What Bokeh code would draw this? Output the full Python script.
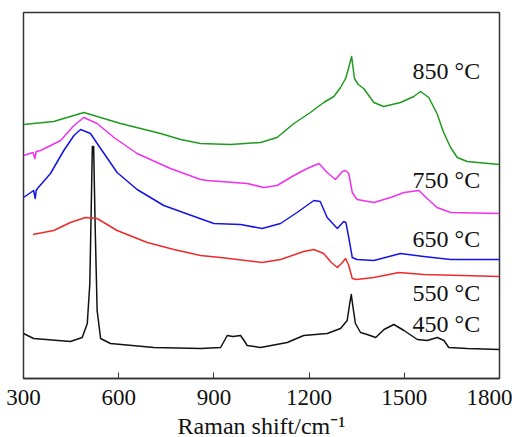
from bokeh.plotting import figure
from bokeh.models import Range1d, FixedTicker
from bokeh.core.properties import value
from bokeh.embed import file_html
from bokeh.resources import INLINE

# Raman shift (cm^-1) and offset intensities (arbitrary units)
x450 = [300, 332, 448, 485, 501, 509, 514, 517, 521, 526, 532, 543, 574, 711, 858, 921, 930, 942, 960, 984,
        995, 1005, 1047, 1131, 1183, 1257, 1299, 1320, 1328, 1333, 1338, 1346, 1362, 1383, 1410, 1436, 1467,
        1499, 1541, 1572, 1604, 1625, 1640, 1698, 1800]
y450 = [45, 40, 37, 41, 55, 95, 180, 232, 232, 150, 68, 40, 35, 31, 30, 31, 36, 43, 42, 43,
        38, 33, 31, 36, 43, 45, 50, 58, 75, 84, 72, 55, 46, 44, 41, 49, 54,
        48, 39, 38, 41, 38, 31, 30, 29]

x550 = [330, 395, 448, 495, 532, 595, 690, 774, 858, 921, 1052, 1110, 1183, 1215, 1246, 1270, 1289, 1305,
        1315, 1325, 1336, 1350, 1404, 1483, 1561, 1800]
y550 = [144, 148, 156, 161, 160, 148, 136, 129, 123, 121, 116, 119, 127, 129, 125, 116, 111, 116,
        120, 113, 100, 99, 101, 106, 104, 102]

x650 = [300, 332, 337, 340, 344, 385, 427, 459, 480, 511, 543, 595, 658, 742, 847, 900, 984, 1052, 1110,
        1162, 1215, 1235, 1257, 1289, 1309, 1316, 1325, 1336, 1351, 1404, 1488, 1561, 1646, 1800]
y650 = [181, 188, 180, 188, 190, 205, 228, 243, 249, 245, 230, 206, 189, 173, 161, 155, 154, 150, 155,
        166, 178, 177, 161, 150, 157, 156, 141, 121, 119, 118, 125, 122, 119, 119]

x750 = [300, 330, 336, 340, 354, 417, 459, 490, 532, 585, 658, 763, 858, 879, 1005, 1057, 1099, 1152, 1194,
        1231, 1257, 1283, 1305, 1315, 1325, 1336, 1351, 1404, 1457, 1499, 1546, 1572, 1603, 1646, 1800]
y750 = [223, 226, 220, 227, 228, 238, 253, 261, 255, 241, 225, 210, 199, 198, 195, 191, 193, 203, 210,
        215, 206, 199, 207, 208, 205, 186, 179, 176, 181, 186, 188, 180, 171, 166, 165]

x850 = [300, 395, 490, 606, 732, 795, 858, 952, 1047, 1099, 1152, 1204, 1246, 1278, 1299, 1315, 1325, 1334,
        1343, 1355, 1372, 1404, 1435, 1488, 1530, 1551, 1577, 1603, 1624, 1646, 1667, 1698, 1800]
y850 = [254, 257, 266, 255, 245, 239, 235, 234, 236, 241, 255, 266, 276, 282, 291, 300, 311, 322,
        300, 294, 290, 276, 272, 276, 282, 287, 281, 265, 246, 231, 221, 217, 214]

labels = ["850 °C", "750 °C", "650 °C", "550 °C", "450 °C"]
label_y = [308, 199, 140, 86, 55]
ticks = [300, 600, 900, 1200, 1500, 1800]
x_title = "Raman shift/cm⁻¹"

FONT = "Liberation Serif"

p = figure(frame_width=476, frame_height=366, output_backend="svg", toolbar_location=None,
           x_range=Range1d(300, 1800), y_range=Range1d(0, 366),
           min_border_left=23, min_border_right=13, min_border_top=12, min_border_bottom=59)
p.background_fill_color = "white"
p.border_fill_color = "white"
p.outline_line_color = "#333333"
p.outline_line_width = 1.5
p.grid.visible = False
p.yaxis.visible = False

ax = p.xaxis[0]
ax.ticker = FixedTicker(ticks=ticks)
ax.major_tick_in = 6
ax.major_tick_out = 0
ax.minor_tick_line_color = None
ax.axis_line_width = 1.5
ax.axis_line_color = "#333333"
ax.major_tick_line_color = "#333333"
ax.major_label_text_font = FONT
ax.major_label_text_font_size = "23px"
ax.major_label_text_color = "#111111"
ax.major_label_standoff = 11
ax.axis_label = x_title
ax.axis_label_text_font = FONT
ax.axis_label_text_font_size = "24px"
ax.axis_label_text_font_style = "normal"
ax.axis_label_text_color = "#111111"
ax.axis_label_standoff = 5

series = [(x450, y450, "#111111"), (x550, y550, "#ee2a2a"), (x650, y650, "#1414e6"),
          (x750, y750, "#f030f0"), (x850, y850, "#1f9a1f")]
for xs, ys, c in series:
    p.line(xs, ys, line_color=c, line_width=1.5, line_join="round")

p.text(x=[1526] * len(labels), y=label_y, text=labels, text_font=value(FONT),
       text_font_size="24px", text_align="left", text_baseline="middle", text_color="#111111")

open("out.html", "w").write(file_html(p, INLINE))
